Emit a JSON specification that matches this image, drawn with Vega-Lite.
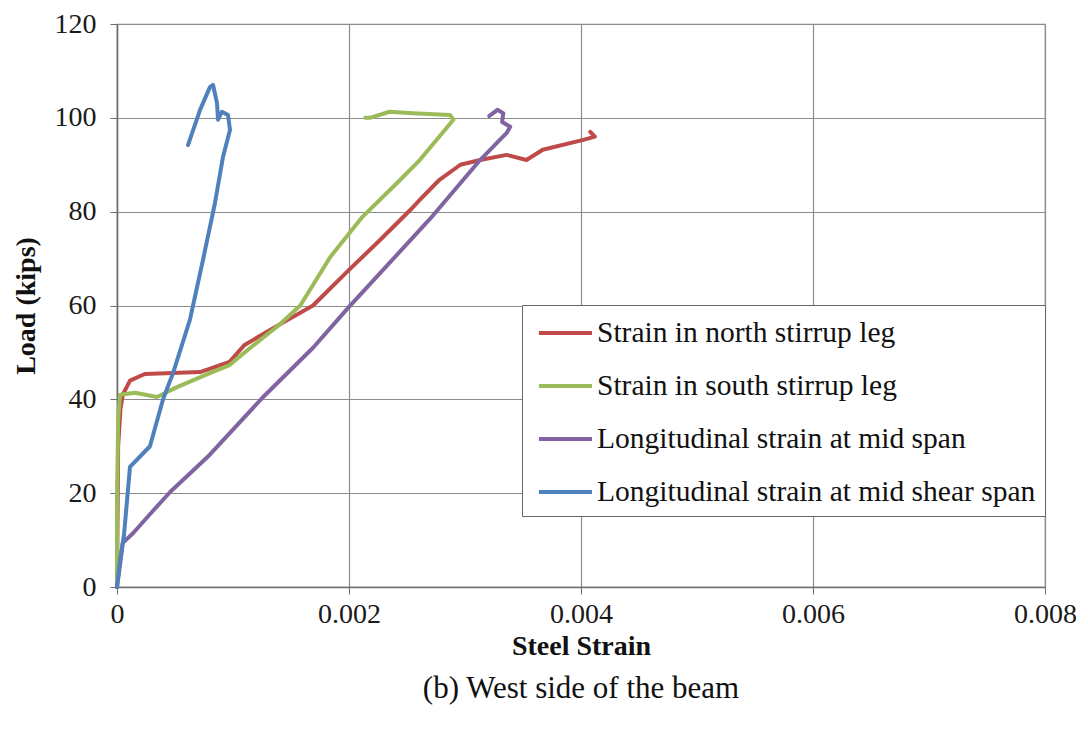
{
  "$schema": "https://vega.github.io/schema/vega-lite/v6.json",
  "width": 928,
  "height": 563,
  "autosize": "none",
  "padding": {"left": 117, "top": 24, "right": 43, "bottom": 145},
  "background": "white",
  "config": {
    "font": "Liberation Serif",
    "view": {"stroke": "#8c8c8c", "strokeWidth": 1.2},
    "axis": {
      "gridColor": "#8c8c8c",
      "gridWidth": 1.2,
      "gridOpacity": 1,
      "domainColor": "#6e6e6e",
      "domainWidth": 1.5,
      "tickColor": "#6e6e6e",
      "tickSize": 7,
      "labelFont": "Liberation Serif",
      "labelFontSize": 28,
      "labelColor": "#1a1a1a",
      "titleFont": "Liberation Serif",
      "titleFontSize": 28,
      "titleFontWeight": "bold",
      "titleColor": "#111111"
    }
  },
  "title": {
    "text": "(b) West side of the beam",
    "orient": "bottom",
    "anchor": "middle",
    "font": "Liberation Serif",
    "fontSize": 31,
    "fontWeight": "normal",
    "color": "#111111",
    "offset": 14
  },
  "data": {
    "values": [
      {"s": "Strain in north stirrup leg", "i": 0, "x": 0, "y": 0},
      {"s": "Strain in north stirrup leg", "i": 1, "x": 0.00001, "y": 30},
      {"s": "Strain in north stirrup leg", "i": 2, "x": 0.00003, "y": 38},
      {"s": "Strain in north stirrup leg", "i": 3, "x": 0.00005, "y": 41},
      {"s": "Strain in north stirrup leg", "i": 4, "x": 0.000112, "y": 44},
      {"s": "Strain in north stirrup leg", "i": 5, "x": 0.00024, "y": 45.4},
      {"s": "Strain in north stirrup leg", "i": 6, "x": 0.000716, "y": 45.8},
      {"s": "Strain in north stirrup leg", "i": 7, "x": 0.00097, "y": 48},
      {"s": "Strain in north stirrup leg", "i": 8, "x": 0.0011, "y": 51.6},
      {"s": "Strain in north stirrup leg", "i": 9, "x": 0.00132, "y": 54.8},
      {"s": "Strain in north stirrup leg", "i": 10, "x": 0.00169, "y": 60},
      {"s": "Strain in north stirrup leg", "i": 11, "x": 0.002, "y": 67.6},
      {"s": "Strain in north stirrup leg", "i": 12, "x": 0.00227, "y": 74},
      {"s": "Strain in north stirrup leg", "i": 13, "x": 0.00253, "y": 80.4},
      {"s": "Strain in north stirrup leg", "i": 14, "x": 0.00261, "y": 82.5},
      {"s": "Strain in north stirrup leg", "i": 15, "x": 0.00278, "y": 86.8},
      {"s": "Strain in north stirrup leg", "i": 16, "x": 0.00296, "y": 90},
      {"s": "Strain in north stirrup leg", "i": 17, "x": 0.00313, "y": 91},
      {"s": "Strain in north stirrup leg", "i": 18, "x": 0.00336, "y": 92.1},
      {"s": "Strain in north stirrup leg", "i": 19, "x": 0.00353, "y": 91},
      {"s": "Strain in north stirrup leg", "i": 20, "x": 0.00367, "y": 93.2},
      {"s": "Strain in north stirrup leg", "i": 21, "x": 0.00402, "y": 95.3},
      {"s": "Strain in north stirrup leg", "i": 22, "x": 0.00412, "y": 96},
      {"s": "Strain in north stirrup leg", "i": 23, "x": 0.00408, "y": 97},

      {"s": "Strain in south stirrup leg", "i": 0, "x": 0, "y": 0},
      {"s": "Strain in south stirrup leg", "i": 1, "x": 0, "y": 18.5},
      {"s": "Strain in south stirrup leg", "i": 2, "x": 0.00001, "y": 35.6},
      {"s": "Strain in south stirrup leg", "i": 3, "x": 0.000026, "y": 41},
      {"s": "Strain in south stirrup leg", "i": 4, "x": 0.000155, "y": 41.4},
      {"s": "Strain in south stirrup leg", "i": 5, "x": 0.000345, "y": 40.5},
      {"s": "Strain in south stirrup leg", "i": 6, "x": 0.000517, "y": 42.6},
      {"s": "Strain in south stirrup leg", "i": 7, "x": 0.0008, "y": 45.6},
      {"s": "Strain in south stirrup leg", "i": 8, "x": 0.00097, "y": 47.3},
      {"s": "Strain in south stirrup leg", "i": 9, "x": 0.00115, "y": 51},
      {"s": "Strain in south stirrup leg", "i": 10, "x": 0.0014, "y": 55.9},
      {"s": "Strain in south stirrup leg", "i": 11, "x": 0.00158, "y": 60},
      {"s": "Strain in south stirrup leg", "i": 12, "x": 0.00184, "y": 70.4},
      {"s": "Strain in south stirrup leg", "i": 13, "x": 0.00212, "y": 79},
      {"s": "Strain in south stirrup leg", "i": 14, "x": 0.00241, "y": 86},
      {"s": "Strain in south stirrup leg", "i": 15, "x": 0.00261, "y": 91},
      {"s": "Strain in south stirrup leg", "i": 16, "x": 0.0029, "y": 99.6},
      {"s": "Strain in south stirrup leg", "i": 17, "x": 0.00287, "y": 100.6},
      {"s": "Strain in south stirrup leg", "i": 18, "x": 0.00255, "y": 101},
      {"s": "Strain in south stirrup leg", "i": 19, "x": 0.00235, "y": 101.3},
      {"s": "Strain in south stirrup leg", "i": 20, "x": 0.00218, "y": 100},
      {"s": "Strain in south stirrup leg", "i": 21, "x": 0.00214, "y": 100},

      {"s": "Longitudinal strain at mid span", "i": 0, "x": 0, "y": 0},
      {"s": "Longitudinal strain at mid span", "i": 1, "x": 0.000026, "y": 4.7},
      {"s": "Longitudinal strain at mid span", "i": 2, "x": 0.00005, "y": 9.4},
      {"s": "Longitudinal strain at mid span", "i": 3, "x": 0.00014, "y": 11.5},
      {"s": "Longitudinal strain at mid span", "i": 4, "x": 0.00028, "y": 15.4},
      {"s": "Longitudinal strain at mid span", "i": 5, "x": 0.00046, "y": 20.3},
      {"s": "Longitudinal strain at mid span", "i": 6, "x": 0.00078, "y": 27.7},
      {"s": "Longitudinal strain at mid span", "i": 7, "x": 0.00126, "y": 40.5},
      {"s": "Longitudinal strain at mid span", "i": 8, "x": 0.00169, "y": 51},
      {"s": "Longitudinal strain at mid span", "i": 9, "x": 0.002, "y": 59.7},
      {"s": "Longitudinal strain at mid span", "i": 10, "x": 0.0027, "y": 78.5},
      {"s": "Longitudinal strain at mid span", "i": 11, "x": 0.00313, "y": 91},
      {"s": "Longitudinal strain at mid span", "i": 12, "x": 0.0033, "y": 95.3},
      {"s": "Longitudinal strain at mid span", "i": 13, "x": 0.00336, "y": 96.8},
      {"s": "Longitudinal strain at mid span", "i": 14, "x": 0.00339, "y": 98.1},
      {"s": "Longitudinal strain at mid span", "i": 15, "x": 0.00332, "y": 99.1},
      {"s": "Longitudinal strain at mid span", "i": 16, "x": 0.00333, "y": 101},
      {"s": "Longitudinal strain at mid span", "i": 17, "x": 0.00328, "y": 101.7},
      {"s": "Longitudinal strain at mid span", "i": 18, "x": 0.00321, "y": 100.4},

      {"s": "Longitudinal strain at mid shear span", "i": 0, "x": 0, "y": 0},
      {"s": "Longitudinal strain at mid shear span", "i": 1, "x": 0.000026, "y": 5.8},
      {"s": "Longitudinal strain at mid shear span", "i": 2, "x": 0.00006, "y": 11},
      {"s": "Longitudinal strain at mid shear span", "i": 3, "x": 0.000112, "y": 25.6},
      {"s": "Longitudinal strain at mid shear span", "i": 4, "x": 0.000284, "y": 30},
      {"s": "Longitudinal strain at mid shear span", "i": 5, "x": 0.000397, "y": 40},
      {"s": "Longitudinal strain at mid shear span", "i": 6, "x": 0.000483, "y": 45.6},
      {"s": "Longitudinal strain at mid shear span", "i": 7, "x": 0.000629, "y": 57},
      {"s": "Longitudinal strain at mid shear span", "i": 8, "x": 0.000741, "y": 69.7},
      {"s": "Longitudinal strain at mid shear span", "i": 9, "x": 0.000845, "y": 81.9},
      {"s": "Longitudinal strain at mid shear span", "i": 10, "x": 0.000914, "y": 91.7},
      {"s": "Longitudinal strain at mid shear span", "i": 11, "x": 0.000974, "y": 97.4},
      {"s": "Longitudinal strain at mid shear span", "i": 12, "x": 0.000957, "y": 100.6},
      {"s": "Longitudinal strain at mid shear span", "i": 13, "x": 0.000905, "y": 101.3},
      {"s": "Longitudinal strain at mid shear span", "i": 14, "x": 0.000871, "y": 99.6},
      {"s": "Longitudinal strain at mid shear span", "i": 15, "x": 0.000862, "y": 103.2},
      {"s": "Longitudinal strain at mid shear span", "i": 16, "x": 0.000828, "y": 107},
      {"s": "Longitudinal strain at mid shear span", "i": 17, "x": 0.000802, "y": 106.6},
      {"s": "Longitudinal strain at mid shear span", "i": 18, "x": 0.000716, "y": 101.7},
      {"s": "Longitudinal strain at mid shear span", "i": 19, "x": 0.000612, "y": 94.2}
    ]
  },
  "mark": {"type": "line", "strokeWidth": 4, "strokeJoin": "round", "strokeCap": "round"},
  "encoding": {
    "x": {
      "field": "x",
      "type": "quantitative",
      "title": "Steel Strain",
      "scale": {"domain": [0, 0.008], "nice": false, "zero": true},
      "axis": {"values": [0, 0.002, 0.004, 0.006, 0.008], "format": "~g", "labelPadding": 6, "titlePadding": 4, "labelFlush": false}
    },
    "y": {
      "field": "y",
      "type": "quantitative",
      "title": "Load (kips)",
      "scale": {"domain": [0, 120], "nice": false},
      "axis": {"values": [0, 20, 40, 60, 80, 100, 120], "labelPadding": 14, "titlePadding": 14}
    },
    "color": {
      "field": "s",
      "type": "nominal",
      "scale": {
        "domain": ["Strain in north stirrup leg", "Strain in south stirrup leg", "Longitudinal strain at mid span", "Longitudinal strain at mid shear span"],
        "range": ["#BE4B48", "#9BBB59", "#8064A2", "#4F81BD"]
      },
      "legend": {
        "title": null,
        "orient": "none",
        "legendX": 405,
        "legendY": 281,
        "direction": "vertical",
        "strokeColor": "#666666",
        "fillColor": "white",
        "padding": 9,
        "rowPadding": 19,
        "symbolType": "M-0.65,0H2.47",
        "symbolStrokeWidth": 4,
        "symbolSize": 1156,
        "labelFont": "Liberation Serif",
        "labelFontSize": 29.5,
        "labelColor": "#111111",
        "labelLimit": 700,
        "labelOffset": 28
      }
    },
    "order": {"field": "i", "type": "quantitative"}
  }
}
